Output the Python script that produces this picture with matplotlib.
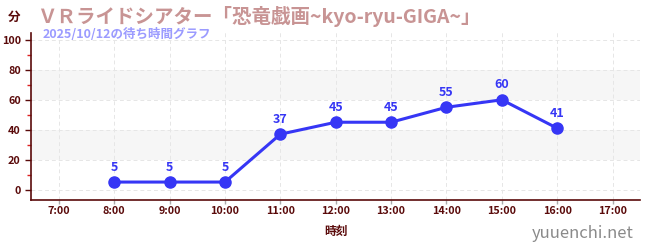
import matplotlib.pyplot as plt

plt.rcParams['font.family'] = ['Noto Sans CJK JP', 'DejaVu Sans']

hours = [8, 9, 10, 11, 12, 13, 14, 15, 16]
waits = [5, 5, 5, 37, 45, 45, 55, 60, 41]
tick_hours = list(range(7, 18))
tick_labels = ["%d:00" % h for h in tick_hours]

title = "ＶＲライドシアター「恐竜戯画~kyo-ryu-GIGA~」"
subtitle = "2025/10/12の待ち時間グラフ"

axis_col = "#5a0a0a"
line_col = "#3636f5"

fig = plt.figure(figsize=(6.5, 2.5), dpi=100, facecolor='white')
ax = fig.add_axes([0.048, 0.2, 0.937, 0.67])

ax.set_xlim(6.5, 17.5)
ax.set_ylim(-7, 105)

for lo, hi in [(20, 40), (60, 80)]:
    ax.axhspan(lo, hi, color="#f6f6f6", zorder=0, lw=0)

ax.set_xticks(tick_hours)
ax.set_xticklabels(tick_labels)
ax.set_yticks([0, 20, 40, 60, 80, 100])
ax.set_yticks([10, 30, 50, 70, 90], minor=True)
ax.grid(True, which='major', color="#e6e6e6", ls=(0, (4, 3)), lw=0.7, zorder=1)

ax.plot(hours, waits, color=line_col, lw=2.2, marker='o', ms=8, zorder=3)
for h, w in zip(hours, waits):
    ax.annotate(str(w), (h, w), xytext=(0, 6), textcoords='offset points',
                ha='center', va='bottom', color=line_col, fontsize=9, fontweight='bold')

for s in ['top', 'right']:
    ax.spines[s].set_visible(False)
for s in ['left', 'bottom']:
    ax.spines[s].set_color(axis_col)
    ax.spines[s].set_linewidth(1.2)

ax.tick_params(axis='both', which='major', colors=axis_col, labelsize=7.8, length=4, width=1)
ax.tick_params(axis='y', which='minor', colors="#dd2222", length=3, width=1)
ax.tick_params(axis='x', which='major', colors="#aaaaaa", labelcolor=axis_col, length=3, pad=1.5)
for lab in ax.get_xticklabels() + ax.get_yticklabels():
    lab.set_fontweight('bold')

ax.set_xlabel("時刻", color=axis_col, fontsize=8.5, fontweight='bold', labelpad=6)

fig.text(0.022, 0.93, "分", color=axis_col, fontsize=9, fontweight='bold', ha='center', va='center')
fig.text(0.057, 0.935, title, color="#c89494", fontsize=14, fontweight='bold', va='center')
fig.text(0.065, 0.862, subtitle, color="#9b9bff", fontsize=9, fontweight='bold', va='center')
fig.text(0.975, 0.068, "yuuenchi.net", color="#8a8a8a", fontsize=12, ha='right', va='center')

fig.savefig("out.png", dpi=100, facecolor='white')
